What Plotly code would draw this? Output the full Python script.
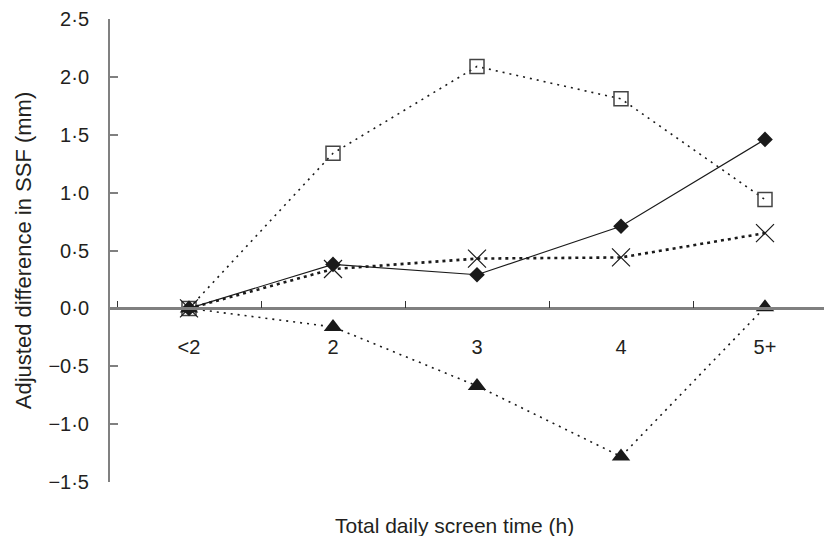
import plotly.graph_objects as go

# ---- data ----
categories = ["<2", "2", "3", "4", "5+"]
diamond_vals = [0.0, 0.38, 0.29, 0.71, 1.46]
square_vals = [0.0, 1.34, 2.09, 1.81, 0.94]
cross_vals = [0.0, 0.34, 0.43, 0.44, 0.65]
triangle_vals = [0.0, -0.16, -0.67, -1.28, 0.01]

y_tick_vals = [-1.5, -1.0, -0.5, 0.0, 0.5, 1.0, 1.5, 2.0, 2.5]
y_tick_text = ["\u22121\u00b75", "\u22121\u00b70", "\u22120\u00b75", "0\u00b70",
               "0\u00b75", "1\u00b70", "1\u00b75", "2\u00b70", "2\u00b75"]
x_title = "Total daily screen time (h)"
y_title = "Adjusted difference in SSF (mm)"

FONT = "Liberation Sans, Arial, Helvetica, sans-serif"
TXT = "#231f20"

fig = go.Figure()

fig.add_trace(go.Scatter(
    x=categories, y=square_vals, mode="lines+markers", name="square",
    line=dict(color="#1a1a1a", width=1.6, dash="2px,5px"),
    marker=dict(symbol="square-open", size=14, color="#444444", line=dict(width=1.5)),
))
fig.add_trace(go.Scatter(
    x=categories, y=cross_vals, mode="lines+markers", name="cross",
    line=dict(color="#1a1a1a", width=2.6, dash="3px,4px"),
    marker=dict(symbol="x-thin-open", size=18, color="#1a1a1a", line=dict(width=1.2)),
))
fig.add_trace(go.Scatter(
    x=categories, y=diamond_vals, mode="lines+markers", name="diamond",
    line=dict(color="#1a1a1a", width=1.1),
    marker=dict(symbol="diamond", size=12, color="#1a1a1a"),
))
fig.add_trace(go.Scatter(
    x=categories, y=triangle_vals, mode="lines+markers", name="triangle",
    line=dict(color="#1a1a1a", width=1.6, dash="2px,5px"),
    marker=dict(symbol="triangle-up", size=16, color="#1a1a1a"),
))

fig.update_layout(
    width=824, height=536,
    margin=dict(l=110, r=0, t=19, b=54, pad=0),
    paper_bgcolor="white", plot_bgcolor="white",
    showlegend=False,
    font=dict(family=FONT, size=20, color=TXT),
    xaxis=dict(
        type="category",
        categoryorder="array", categoryarray=categories,
        range=[-0.5486, 4.4097],
        anchor="free", position=0.3748,
        showline=True, linecolor="#808080", linewidth=2.5,
        ticks="inside", tickson="boundaries", ticklen=7,
        tickcolor="#333333", tickwidth=1.2,
        showgrid=False, zeroline=False,
        ticklabelstandoff=20,
        tickfont=dict(size=20, color=TXT),
    ),
    yaxis=dict(
        range=[-1.5, 2.5],
        showline=True, linecolor="#808080", linewidth=2,
        ticks="inside", ticklen=8, tickcolor="#808080", tickwidth=2,
        tickvals=y_tick_vals, ticktext=y_tick_text,
        showgrid=False, zeroline=False,
        ticklabelstandoff=15,
        tickfont=dict(size=20, color=TXT),
        title=dict(text=y_title, font=dict(size=22, color=TXT), standoff=11),
        automargin=False,
    ),
    annotations=[dict(
        text=x_title, x=0.483, y=-0.0936, xref="paper", yref="paper",
        xanchor="center", yanchor="middle", showarrow=False,
        font=dict(size=21, color=TXT),
    )],
)

fig.write_html(
    "out.html",
    config={"displayModeBar": False},
    post_script="document.body.style.margin='0';document.body.style.overflow='hidden';",
)
